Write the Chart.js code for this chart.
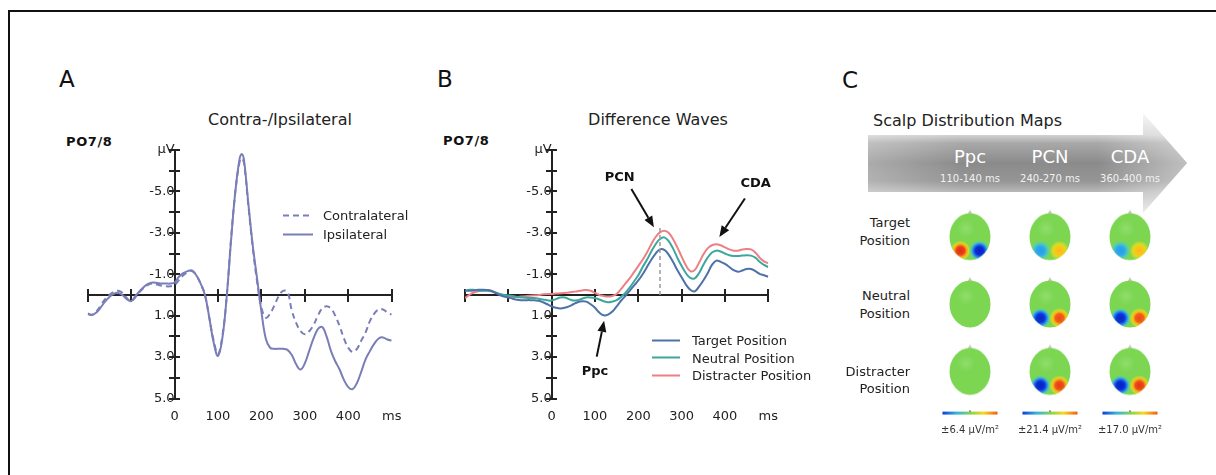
<!DOCTYPE html>
<html>
<head>
<meta charset="utf-8">
<script src="https://cdn.jsdelivr.net/npm/chart.js@4.4.1/dist/chart.umd.min.js"></script>
<style>
  body { margin: 0; background: #fff; }
  #fig { position: relative; width: 1216px; height: 475px; overflow: hidden;
         font-family: "DejaVu Sans", Verdana, sans-serif; color: #222; }
  #frame { position: absolute; left: 8px; top: 10px; right: -4px; bottom: -4px;
           border-left: 2px solid #111; border-top: 2px solid #111; }
  .t { position: absolute; white-space: nowrap; line-height: 1; transform: translateY(-50%); }
  .panel { font-size: 23px; color: #111; }
  .title { font-size: 16px; transform: translate(-50%, -50%); }
  .chan { font-size: 13px; font-weight: bold; letter-spacing: 0.6px; color: #111; }
  .row { font-size: 13px; text-align: right; transform: translate(-100%, -50%); }
  .win { color: #fff; font-size: 18px; transform: translate(-50%, -50%); }
  .range { color: #f2f2f2; font-size: 10px; transform: translate(-50%, -50%); }
  canvas { position: absolute; }
  .legend { position: absolute; }
  .lg-row { position: absolute; left: 0; display: flex; align-items: center; white-space: nowrap;
            font-size: 13px; line-height: 1; transform: translateY(-50%); }
  .lg-line { display: inline-block; height: 2px; }
  #banner { position: absolute; left: 868px; top: 113px; width: 319px; height: 100px;
    clip-path: polygon(0 22px, 275px 22px, 275px 0, 319px 50px, 275px 100px, 275px 79px, 0 79px);
    background:
      linear-gradient(to right, rgba(255,255,255,0.28) 0%, rgba(255,255,255,0) 30%, rgba(255,255,255,0) 72%, rgba(255,255,255,0.45) 100%),
      linear-gradient(to bottom, #f6f6f6 0%, #d2d2d2 22%, #a9a9a9 30%, #8b8b8b 50%, #959595 68%, #b9b9b9 79%, #e6e6e6 100%);
  }
</style>
</head>
<body>
<div id="fig">
  <div id="frame"></div>

  <div class="t panel" style="left:59px; top:79px;">A</div>
  <div class="t panel" style="left:437px; top:79px;">B</div>
  <div class="t panel" style="left:842px; top:80px;">C</div>

  <div class="t title" style="left:280px; top:120px;">Contra-/Ipsilateral</div>
  <div class="t title" style="left:658px; top:120px;">Difference Waves</div>
  <div class="t chan" style="left:66px; top:141px;">PO7/8</div>
  <div class="t chan" style="left:443px; top:140px;">PO7/8</div>

  <canvas id="chartA" width="380" height="340" style="left:40px; top:100px;"></canvas>
  <canvas id="chartB" width="400" height="340" style="left:420px; top:100px;"></canvas>
  <div class="legend" id="legendA" style="left:283px; top:215px;"></div>
  <div class="legend" id="legendB" style="left:652px; top:340px;"></div>

  <div id="banner"></div>
  <div class="t" style="left:873px; top:121px; font-size:16px;">Scalp Distribution Maps</div>
  <div id="bannerText"></div>
  <div id="rowText"></div>
  <canvas id="chartC" width="300" height="260" style="left:900px; top:190px;"></canvas>
</div>

<script>
// ---- Panel A: contra- and ipsilateral ERPs at PO7/8 (µV, negative up) ----
const timesA = [-200, -190, -180, -170, -160, -150, -140, -130, -120, -110, -100, -90, -80, -70, -60, -50,
  -40, -30, -20, -10, 0, 10, 20, 30, 40, 50, 60, 70, 80, 90, 100, 110, 120, 130, 140, 150, 155, 160, 170,
  180, 190, 200, 210, 220, 230, 240, 250, 260, 270, 280, 290, 300, 310, 320, 330, 340, 350, 360, 370,
  380, 390, 400, 410, 420, 430, 440, 450, 460, 470, 480, 490, 500];
const contralateral = [0.9, 0.95, 0.8, 0.5, 0.2, 0.0, -0.15, -0.2, -0.1, 0.15, 0.3, 0.1, -0.15, -0.35, -0.5, -0.55,
  -0.5, -0.45, -0.42, -0.42, -0.48, -0.72, -0.95, -1.1, -1.15, -0.95, -0.55, 0.0, 1.1, 2.2, 2.85, 2.0, 0.1, -2.7, -5.0, -6.45, -6.6, -6.35, -4.3,
  -2.3, -0.65, 0.6, 1.1, 0.9, 0.5, 0.05, -0.2, -0.15, 0.75, 1.35, 1.75, 1.9, 1.75, 1.45, 1.0, 0.65, 0.55, 0.65, 1.0,
  1.5, 2.1, 2.55, 2.75, 2.6, 2.2, 1.8, 1.25, 0.9, 0.7, 0.7, 0.85, 0.95];
const ipsilateral = [0.92, 0.97, 0.85, 0.6, 0.32, 0.1, -0.05, -0.1, 0.0, 0.2, 0.3, 0.05, -0.2, -0.4, -0.55, -0.6,
  -0.58, -0.55, -0.55, -0.55, -0.6, -0.88, -1.05, -1.15, -1.18, -0.95, -0.55, 0.0, 1.1, 2.3, 2.95, 2.1, 0.1, -2.6, -5.0, -6.6, -6.8, -6.5, -4.4,
  -2.4, -0.8, 0.8, 2.1, 2.55, 2.6, 2.6, 2.6, 2.65, 2.9, 3.35, 3.6, 3.3, 2.7, 2.1, 1.65, 1.55, 2.0, 2.7, 3.2,
  3.6, 4.1, 4.45, 4.55, 4.25, 3.7, 3.1, 2.7, 2.35, 2.1, 2.05, 2.15, 2.2];

// ---- Panel B: difference waves (contra minus ipsi) per target position ----
const timesB = [-200, -190, -180, -170, -160, -150, -140, -130, -120, -110, -100, -90, -80, -70, -60, -50,
  -40, -30, -20, -10, 0, 10, 20, 30, 40, 50, 60, 70, 80, 90, 100, 110, 120, 130, 140, 150, 160, 170,
  180, 190, 200, 210, 220, 230, 240, 250, 260, 270, 280, 290, 300, 310, 320, 330, 340, 350, 360, 370,
  380, 390, 400, 410, 420, 430, 440, 450, 460, 470, 480, 490, 500];
const targetPos = [-0.2, -0.2, -0.22, -0.25, -0.25, -0.24, -0.2, -0.1, 0.0, 0.08, 0.12, 0.18, 0.23, 0.25, 0.25, 0.25,
  0.26, 0.28, 0.35, 0.45, 0.55, 0.62, 0.65, 0.62, 0.55, 0.45, 0.35, 0.3, 0.32, 0.45, 0.62, 0.85, 0.98, 0.95, 0.8, 0.55, 0.28, 0.05,
  -0.2, -0.45, -0.7, -1.0, -1.35, -1.7, -2.0, -2.2, -2.18, -1.95, -1.6, -1.2, -0.85, -0.5, -0.25, -0.17, -0.4, -0.7, -1.05, -1.45,
  -1.66, -1.6, -1.5, -1.35, -1.2, -1.12, -1.18, -1.25, -1.25, -1.15, -1.02, -0.95, -0.88];
const neutralPos = [-0.2, -0.25, -0.25, -0.22, -0.2, -0.2, -0.18, -0.12, -0.05, 0.0, 0.02, 0.05, 0.1, 0.12, 0.14, 0.15,
  0.15, 0.18, 0.22, 0.26, 0.27, 0.2, 0.12, 0.12, 0.2, 0.27, 0.25, 0.18, 0.12, 0.12, 0.15, 0.22, 0.3, 0.35, 0.32, 0.25, 0.1, -0.1,
  -0.35, -0.65, -0.95, -1.35, -1.7, -2.1, -2.45, -2.7, -2.78, -2.6, -2.25, -1.8, -1.4, -1.05, -0.82, -0.8, -1.05, -1.45, -1.8, -2.05,
  -2.14, -2.1, -2.0, -1.92, -1.88, -1.88, -1.9, -1.92, -1.9, -1.8, -1.6, -1.45, -1.35];
const distracterPos = [0.15, 0.0, -0.12, -0.18, -0.22, -0.24, -0.2, -0.12, -0.05, 0.02, 0.08, 0.1, 0.1, 0.08, 0.06, 0.04,
  0.02, 0.0, -0.03, -0.05, -0.05, -0.07, -0.08, -0.1, -0.12, -0.15, -0.18, -0.22, -0.24, -0.2, -0.1, 0.0, 0.05, 0.08, 0.05, -0.05, -0.28, -0.55,
  -0.8, -1.1, -1.4, -1.7, -2.05, -2.45, -2.8, -3.02, -3.1, -3.0, -2.7, -2.3, -1.85, -1.42, -1.15, -1.2, -1.55, -1.95, -2.25, -2.4,
  -2.45, -2.4, -2.3, -2.2, -2.14, -2.14, -2.2, -2.22, -2.2, -2.05, -1.8, -1.62, -1.53];

// PCN latency marker (ms) and its top (µV)
const pcnMarker = [250, -3.3];

// labelled components: arrow tip, arrow tail, text position (ms, µV)
const peakNames = ['Ppc', 'PCN', 'CDA'];
const peakTips = [[121, 1.25], [236, -3.27], [387, -2.8]];
const peakTails = [[104, 2.98], [184, -5.12], [446, -4.66]];
const peakText = [[100, 3.72], [157, -5.65], [471, -5.38]];

// ---- Panel C: scalp distribution maps ----
const mapWindows = ['Ppc', 'PCN', 'CDA'];
const windowRanges = ['110-140 ms', '240-270 ms', '360-400 ms'];
const mapRows = [['Target', 'Position'], ['Neutral', 'Position'], ['Distracter', 'Position']];
const mapScales = ['±6.4 µV/m²', '±21.4 µV/m²', '±17.0 µV/m²'];
// normalised current density over left / right posterior sites (row x window)
const leftSite = [[1.0, -0.5, -0.5], [0, -0.97, -0.97], [0, -1.0, -1.0]];
const rightSite = [[-1.0, 0.55, 0.55], [0, 0.9, 0.9], [0, 0.95, 0.97]];

Chart.defaults.font.family = '"DejaVu Sans", Verdana, sans-serif';
Chart.defaults.color = '#222';

const ink = '#222';
const xy = (xs, ys) => xs.map((t, i) => ({ x: t, y: ys[i] }));

// axes drawn through the origin, with tick marks crossing the axis lines
function erpScales() {
  const tickLabel = v => v === -7 ? 'µV' : (Math.abs(v) % 2 === 1 ? v.toFixed(1) : '');
  return {
    x: {
      type: 'linear', axis: 'x', position: { y: 0 }, min: -200, max: 500,
      ticks: { display: false, stepSize: 100 },
      grid: { drawOnChartArea: false, tickLength: 6, color: ink, lineWidth: 2 },
      border: { display: true, color: ink, width: 2 }
    },
    xUp: {
      type: 'linear', axis: 'x', position: { y: 0 }, min: -200, max: 500,
      ticks: { display: false, stepSize: 100 },
      grid: { drawOnChartArea: false, tickLength: -6, color: ink, lineWidth: 2 },
      border: { display: false }
    },
    xLab: {
      type: 'linear', axis: 'x', position: { y: 5 }, min: -200, max: 500,
      ticks: { stepSize: 100, autoSkip: false, maxRotation: 0, padding: 10, color: ink,
               font: { size: 13 }, callback: v => v < 0 ? '' : (v === 500 ? 'ms' : String(v)) },
      grid: { display: false, drawTicks: false },
      border: { display: false }
    },
    y: {
      type: 'linear', axis: 'y', position: { x: 0 }, reverse: true, min: -7, max: 5,
      ticks: { stepSize: 1, autoSkip: false, padding: 2, color: ink, font: { size: 13 }, callback: tickLabel },
      grid: { drawOnChartArea: false, tickLength: 5, color: ink, lineWidth: 2 },
      border: { display: true, color: ink, width: 2 }
    },
    yRight: {
      type: 'linear', axis: 'y', position: { x: 0 }, reverse: true, min: -7, max: 5,
      ticks: { display: false, stepSize: 1 },
      grid: { drawOnChartArea: false, tickLength: -5, color: ink, lineWidth: 2 },
      border: { display: false }
    }
  };
}

function line(label, xs, ys, color, dash) {
  return {
    label, data: xy(xs, ys), borderColor: color, borderWidth: 2, borderDash: dash || [],
    pointRadius: 0, tension: 0.4, fill: false, xAxisID: 'x', yAxisID: 'y'
  };
}

function baseOptions(padding, extraPlugins) {
  return {
    responsive: false, animation: false, events: [],
    layout: { padding },
    plugins: Object.assign({ legend: { display: false }, tooltip: { enabled: false } }, extraPlugins || {}),
    scales: erpScales()
  };
}

function buildLegend(id, datasets, lineW, gap, rowH) {
  const el = document.getElementById(id);
  datasets.forEach((ds, i) => {
    const row = document.createElement('div');
    row.className = 'lg-row';
    row.style.top = (i * rowH) + 'px';
    const sw = document.createElement('span');
    sw.className = 'lg-line';
    sw.style.width = lineW + 'px';
    sw.style.marginRight = gap + 'px';
    sw.style.background = ds.borderDash.length
      ? `repeating-linear-gradient(to right, ${ds.borderColor} 0 6px, transparent 6px 10px)`
      : ds.borderColor;
    row.appendChild(sw);
    row.appendChild(document.createTextNode(ds.label));
    el.appendChild(row);
  });
}

// Panel A
const lilac = '#7a7eb8';
const dsA = [
  line('Contralateral', timesA, contralateral, lilac, [6, 4]),
  line('Ipsilateral', timesA, ipsilateral, lilac)
];
new Chart(document.getElementById('chartA'), {
  type: 'line',
  data: { datasets: dsA },
  options: baseOptions({ left: 47.7, right: 28.3, top: 50, bottom: 41.5 })
});
buildLegend('legendA', dsA, 30, 10, 19);

// Panel B
const arrowPlugin = {
  id: 'arrows',
  afterDatasetsDraw(chart, args, opts) {
    const { ctx } = chart;
    const sx = chart.scales.x, sy = chart.scales.y;
    ctx.save();
    opts.names.forEach((name, i) => {
      const x1 = sx.getPixelForValue(opts.tails[i][0]), y1 = sy.getPixelForValue(opts.tails[i][1]);
      const x2 = sx.getPixelForValue(opts.tips[i][0]), y2 = sy.getPixelForValue(opts.tips[i][1]);
      const ang = Math.atan2(y2 - y1, x2 - x1);
      const hl = 11, hw = 4.5;
      const bx = x2 - hl * Math.cos(ang), by = y2 - hl * Math.sin(ang);
      ctx.strokeStyle = '#111';
      ctx.fillStyle = '#111';
      ctx.lineWidth = 2;
      ctx.beginPath(); ctx.moveTo(x1, y1); ctx.lineTo(bx, by); ctx.stroke();
      ctx.beginPath();
      ctx.moveTo(x2, y2);
      ctx.lineTo(bx + hw * Math.sin(ang), by - hw * Math.cos(ang));
      ctx.lineTo(bx - hw * Math.sin(ang), by + hw * Math.cos(ang));
      ctx.closePath(); ctx.fill();
      ctx.font = 'bold 13px "DejaVu Sans"';
      ctx.textAlign = 'center';
      ctx.textBaseline = 'middle';
      ctx.fillText(name, sx.getPixelForValue(opts.text[i][0]), sy.getPixelForValue(opts.text[i][1]));
    });
    ctx.restore();
  }
};

const dsB = [
  line('Target Position', timesB, targetPos, '#4e72a8'),
  line('Neutral Position', timesB, neutralPos, '#3ca89d'),
  line('Distracter Position', timesB, distracterPos, '#ec8085')
];
const markerB = {
  label: 'PCN latency', data: [{ x: pcnMarker[0], y: 0 }, { x: pcnMarker[0], y: pcnMarker[1] }],
  borderColor: '#9a9a9a', borderWidth: 1.5, borderDash: [4, 3], pointRadius: 0, tension: 0,
  xAxisID: 'x', yAxisID: 'y'
};
new Chart(document.getElementById('chartB'), {
  type: 'line',
  data: { datasets: [markerB].concat(dsB) },
  options: baseOptions({ left: 45, right: 51.7, top: 50, bottom: 41.5 },
    { arrows: { names: peakNames, tips: peakTips, tails: peakTails, text: peakText } }),
  plugins: [arrowPlugin]
});
buildLegend('legendB', dsB, 28, 12, 17.5);

// Panel C: column headings inside the arrow, row captions on the left
const colX = [970, 1050, 1130];
const bannerText = document.getElementById('bannerText');
mapWindows.forEach((w, i) => {
  bannerText.insertAdjacentHTML('beforeend',
    `<div class="t win" style="left:${colX[i]}px; top:157px;">${w}</div>` +
    `<div class="t range" style="left:${colX[i]}px; top:179px;">${windowRanges[i]}</div>`);
});
const rowLineY = [[222, 240], [295, 313], [371, 388]];
const rowText = document.getElementById('rowText');
mapRows.forEach((r, i) => {
  r.forEach((word, j) => {
    rowText.insertAdjacentHTML('beforeend',
      `<div class="t row" style="left:910px; top:${rowLineY[i][j]}px;">${word}</div>`);
  });
});

// jet-like colour scale, v in [-1, 1]
const jetStops = [
  [-1.0, [10, 30, 200]], [-0.75, [20, 80, 235]], [-0.45, [45, 170, 240]], [-0.2, [90, 210, 170]],
  [0.0, [124, 214, 82]], [0.2, [190, 222, 45]], [0.45, [250, 215, 25]], [0.7, [250, 140, 25]], [1.0, [228, 40, 28]]
];
function jet(v) {
  for (let i = 1; i < jetStops.length; i++) {
    const [v1, c1] = jetStops[i];
    const [v0, c0] = jetStops[i - 1];
    if (v <= v1) {
      const f = (v - v0) / (v1 - v0);
      const c = c0.map((a, k) => Math.round(a + (c1[k] - a) * f));
      return `rgb(${c[0]},${c[1]},${c[2]})`;
    }
  }
  return 'rgb(228,40,28)';
}

function headIcon(left, right) {
  const c = document.createElement('canvas');
  c.width = 46; c.height = 58;
  const g = c.getContext('2d');
  const cx = 23, cy = 29, rx = 20.5, ry = 23.5;
  g.fillStyle = '#c9c9c9';
  g.beginPath();
  g.moveTo(cx - 2.5, cy - ry + 1); g.lineTo(cx, cy - ry - 3.5); g.lineTo(cx + 2.5, cy - ry + 1);
  g.fill();
  g.save();
  g.beginPath();
  g.ellipse(cx, cy, rx, ry, 0, 0, Math.PI * 2);
  g.fillStyle = jet(0);
  g.fill();
  g.clip();
  // faint pale patch over the upper scalp
  const pale = g.createRadialGradient(cx - 4, cy - 8, 0, cx - 4, cy - 8, 9);
  pale.addColorStop(0, 'rgba(170,230,140,0.45)');
  pale.addColorStop(1, 'rgba(170,230,140,0)');
  g.fillStyle = pale;
  g.fillRect(0, 0, c.width, c.height);
  [[left, -9.5], [right, 9.5]].forEach(([v, dx]) => {
    if (!v) return;
    const bx = cx + dx, by = cy + 14, r = 10;
    const grad = g.createRadialGradient(bx, by, 0, bx, by, r);
    [[0, 1], [0.42, 0.92], [0.62, 0.62], [0.82, 0.28], [1, 0]].forEach(([s, k]) => grad.addColorStop(s, jet(v * k)));
    g.fillStyle = grad;
    g.beginPath(); g.arc(bx, by, r, 0, Math.PI * 2); g.fill();
  });
  g.restore();
  return c;
}

const cells = [], icons = [];
mapRows.forEach((r, i) => {
  mapWindows.forEach((w, j) => {
    cells.push({ x: j, y: i });
    icons.push(headIcon(leftSite[i][j], rightSite[i][j]));
  });
});

const colorbarPlugin = {
  id: 'colorbars',
  afterDraw(chart, args, opts) {
    const { ctx, chartArea } = chart;
    const sx = chart.scales.x;
    ctx.save();
    opts.labels.forEach((lab, j) => {
      const x = sx.getPixelForValue(j);
      const y = chartArea.bottom + 8;
      const grad = ctx.createLinearGradient(x - 27.5, 0, x + 27.5, 0);
      [[0, -0.85], [0.25, -0.4], [0.5, 0], [0.75, 0.45], [1, 0.85]].forEach(([s, v]) => grad.addColorStop(s, jet(v)));
      ctx.fillStyle = grad;
      ctx.fillRect(x - 27.5, y - 1.5, 55, 3);
      ctx.fillStyle = '#555';
      ctx.fillRect(x - 0.5, y - 3, 1, 2);
      ctx.fillStyle = '#333';
      ctx.font = '10px "DejaVu Sans"';
      ctx.textAlign = 'center';
      ctx.textBaseline = 'middle';
      ctx.fillText(lab, x, chartArea.bottom + 25);
    });
    ctx.restore();
  }
};

new Chart(document.getElementById('chartC'), {
  type: 'scatter',
  data: { datasets: [{ label: 'maps', data: cells, pointStyle: icons, pointRadius: 12, pointHoverRadius: 12 }] },
  options: {
    responsive: false, animation: false, events: [],
    layout: { padding: { left: 30, right: 30, top: 10.4, bottom: 44.9 } },
    plugins: { legend: { display: false }, tooltip: { enabled: false }, colorbars: { labels: mapScales } },
    scales: {
      x: { type: 'linear', min: -0.5, max: 2.5, display: false },
      y: { type: 'linear', min: -0.5, max: 2.5, reverse: true, display: false }
    }
  },
  plugins: [colorbarPlugin]
});
</script>
</body>
</html>
